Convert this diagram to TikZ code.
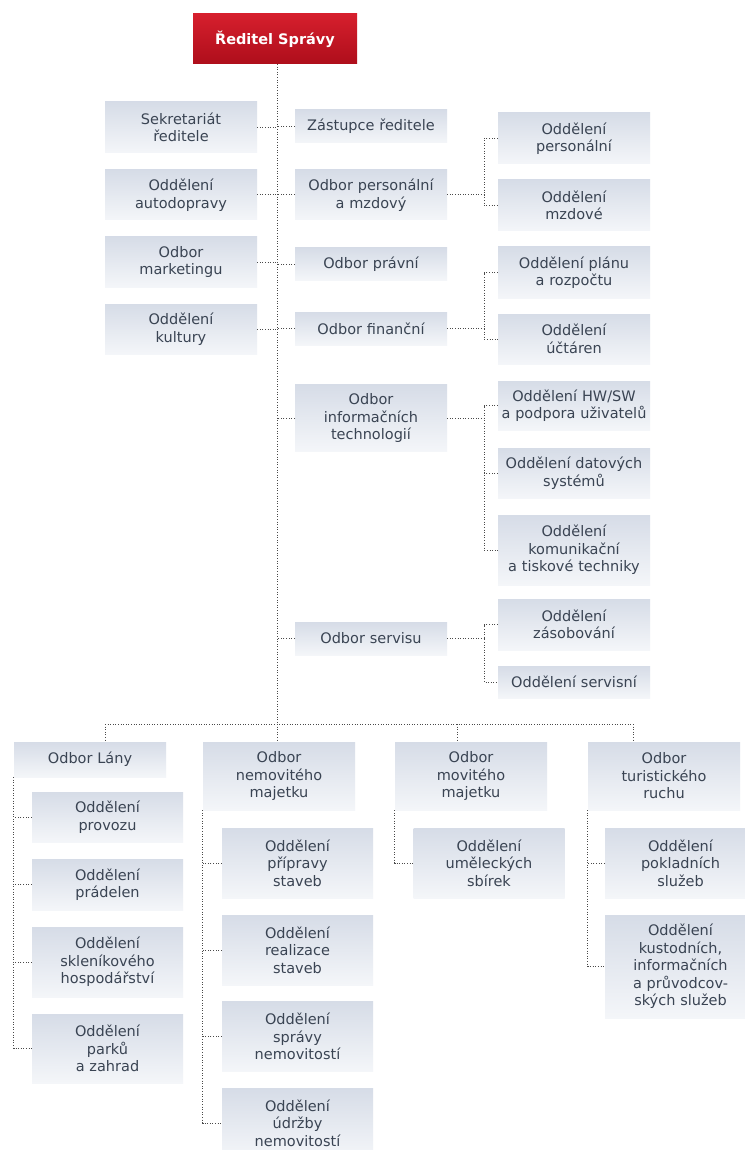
\documentclass[tikz,border=0pt]{standalone}
\usepackage{fontspec}
\setmainfont{DejaVu Sans}
\definecolor{boxtop}{HTML}{D6DCE7}
\definecolor{boxbot}{HTML}{F4F6F9}
\definecolor{txt}{HTML}{3A4453}
\definecolor{redtop}{HTML}{D61F2D}
\definecolor{redbot}{HTML}{AE0E1B}
\definecolor{dotc}{HTML}{4A4A4A}
\tikzset{
  box/.style={rectangle, inner sep=0pt, top color=boxtop, bottom color=boxbot,
    text=txt, align=center, font=\fontsize{14.5}{17.5}\selectfont,
    minimum width=152pt, text width=150pt},
  redbox/.style={rectangle, inner sep=0pt, top color=redtop, bottom color=redbot,
    text=white, font=\fontsize{14.5}{17}\selectfont\bfseries,
    minimum width=164pt, minimum height=50pt},
  dots/.style={draw=dotc, line width=1pt, dash pattern=on 1pt off 1.6pt}
}
\begin{document}
\begin{tikzpicture}[x=1pt,y=-1pt]
\fill[white] (0,0) rectangle (744,1150);
\useasboundingbox (0,0) rectangle (744,1150);

% top
\node[redbox] (red) at (275,39) {Ředitel Správy};
\coordinate (trunk) at (277,64);
\coordinate (hub) at (277,724);

% left column
\node[box, minimum height=51pt] (sek) at (181,127.5) {Sekretariát\\ředitele};
\node[box, minimum height=50pt] (auto) at (181,195) {Oddělení\\autodopravy};
\node[box, minimum height=50pt] (mark) at (181,262) {Odbor\\marketingu};
\node[box, minimum height=50pt] (kult) at (181,329) {Oddělení\\kultury};

% middle column
\node[box, minimum height=33pt] (zast) at (371,126.5) {Zástupce ředitele};
\node[box, minimum height=50pt] (pers) at (371,195) {Odbor personální\\a mzdový};
\node[box, minimum height=32pt] (prav) at (371,264) {Odbor právní};
\node[box, minimum height=33pt] (fin) at (371,328.5) {Odbor finanční};
\node[box, minimum height=67pt] (it) at (371,418) {Odbor\\informačních\\technologií};
\node[box, minimum height=33pt] (serv) at (371,638.5) {Odbor servisu};

% right column
\node[box, minimum height=51pt] (opers) at (574,138.5) {Oddělení\\personální};
\node[box, minimum height=51pt] (omzd) at (574,205.5) {Oddělení\\mzdové};
\node[box, minimum height=51pt] (oplan) at (574,272.5) {Oddělení plánu\\a rozpočtu};
\node[box, minimum height=50pt] (oucet) at (574,339) {Oddělení\\účtáren};
\node[box, minimum height=49pt] (ohw) at (574,405.5) {Oddělení HW/SW\\a podpora uživatelů};
\node[box, minimum height=50pt] (odat) at (574,473) {Oddělení datových\\systémů};
\node[box, minimum height=70pt] (okom) at (574,550) {Oddělení\\komunikační\\a tiskové techniky};
\node[box, minimum height=51pt] (ozas) at (574,624.5) {Oddělení\\zásobování};
\node[box, minimum height=32pt] (oserv) at (574,682) {Oddělení servisní};
\coordinate (bx) at (484,0);

% bottom row
\node[box, minimum height=35pt] (lany) at (90,759.5) {Odbor Lány};
\node[box, minimum height=68pt] (nem) at (279,776) {Odbor\\nemovitého\\majetku};
\node[box, minimum height=68pt] (mov) at (471,776) {Odbor\\movitého\\majetku};
\node[box, minimum height=68pt] (tur) at (664,776) {Odbor\\turistického\\ruchu};
\coordinate (d1) at (105,724);
\coordinate (d3) at (457,724);
\coordinate (d4) at (633,724);

% Lany children
\node[box, minimum width=151pt, text width=149pt, minimum height=50pt] (prov) at (107.5,817) {Oddělení\\provozu};
\node[box, minimum width=151pt, text width=149pt, minimum height=51pt] (prad) at (107.5,884.5) {Oddělení\\prádelen};
\node[box, minimum width=151pt, text width=149pt, minimum height=70pt] (skl) at (107.5,962) {Oddělení\\skleníkového\\hospodářství};
\node[box, minimum width=151pt, text width=149pt, minimum height=69pt] (park) at (107.5,1048.5) {Oddělení\\parků\\a zahrad};

% nemovitého children
\node[box, minimum width=151pt, text width=149pt, minimum height=70pt] (prip) at (297.5,863) {Oddělení\\přípravy\\staveb};
\node[box, minimum width=151pt, text width=149pt, minimum height=70pt] (real) at (297.5,950) {Oddělení\\realizace\\staveb};
\node[box, minimum width=151pt, text width=149pt, minimum height=70pt] (sprav) at (297.5,1036.5) {Oddělení\\správy\\nemovitostí};
\node[box, minimum width=151pt, text width=149pt, minimum height=70pt] (udr) at (297.5,1123) {Oddělení\\údržby\\nemovitostí};

% movitého child
\node[box, minimum width=151pt, text width=149pt, minimum height=70pt] (umel) at (489,863) {Oddělení\\uměleckých\\sbírek};

% turistického children
\node[box, minimum width=151pt, text width=149pt, minimum height=70pt] (pokl) at (680.5,863) {Oddělení\\pokladních\\služeb};
\node[box, minimum width=151pt, text width=149pt, minimum height=103pt] (kust) at (680.5,966.5) {Oddělení\\kustodních,\\informačních\\a průvodcov-\\ských služeb};

% connectors: trunk
\draw[dots] (trunk) -- (hub);
\foreach \n in {sek,auto,mark,kult}
  \draw[dots] (\n.east) -- (\n.east -| trunk);
\foreach \n in {zast,pers,prav,fin,it,serv}
  \draw[dots] (\n.west) -- (\n.west -| trunk);

% right groups
\draw[dots] (pers.east) -- (pers.east -| bx);
\draw[dots] (opers.west) -- (opers.west -| bx) -- (omzd.west -| bx) -- (omzd.west);
\draw[dots] (fin.east) -- (fin.east -| bx);
\draw[dots] (oplan.west) -- (oplan.west -| bx) -- (oucet.west -| bx) -- (oucet.west);
\draw[dots] (it.east) -- (it.east -| bx);
\draw[dots] (ohw.west) -- (ohw.west -| bx) -- (okom.west -| bx) -- (okom.west);
\draw[dots] (odat.west) -- (odat.west -| bx);
\draw[dots] (serv.east) -- (serv.east -| bx);
\draw[dots] (ozas.west) -- (ozas.west -| bx) -- (oserv.west -| bx) -- (oserv.west);

% bottom bus
\draw[dots] (d1) -- (d4);
\draw[dots] (d1) -- (d1 |- lany.north);
\draw[dots] (hub) -- (hub |- nem.north);
\draw[dots] (d3) -- (d3 |- mov.north);
\draw[dots] (d4) -- (d4 |- tur.north);

% sub groups
\draw[dots] (lany.south west) -- (lany.west |- park.west) -- (park.west);
\foreach \n in {prov,prad,skl}
  \draw[dots] (\n.west) -- (\n.west -| lany.west);
\draw[dots] (nem.south west) -- (nem.west |- udr.west) -- (udr.west);
\foreach \n in {prip,real,sprav}
  \draw[dots] (\n.west) -- (\n.west -| nem.west);
\draw[dots] (mov.south west) -- (mov.west |- umel.west) -- (umel.west);
\draw[dots] (tur.south west) -- (tur.west |- kust.west) -- (kust.west);
\draw[dots] (pokl.west) -- (pokl.west -| tur.west);
\end{tikzpicture}
\end{document}
